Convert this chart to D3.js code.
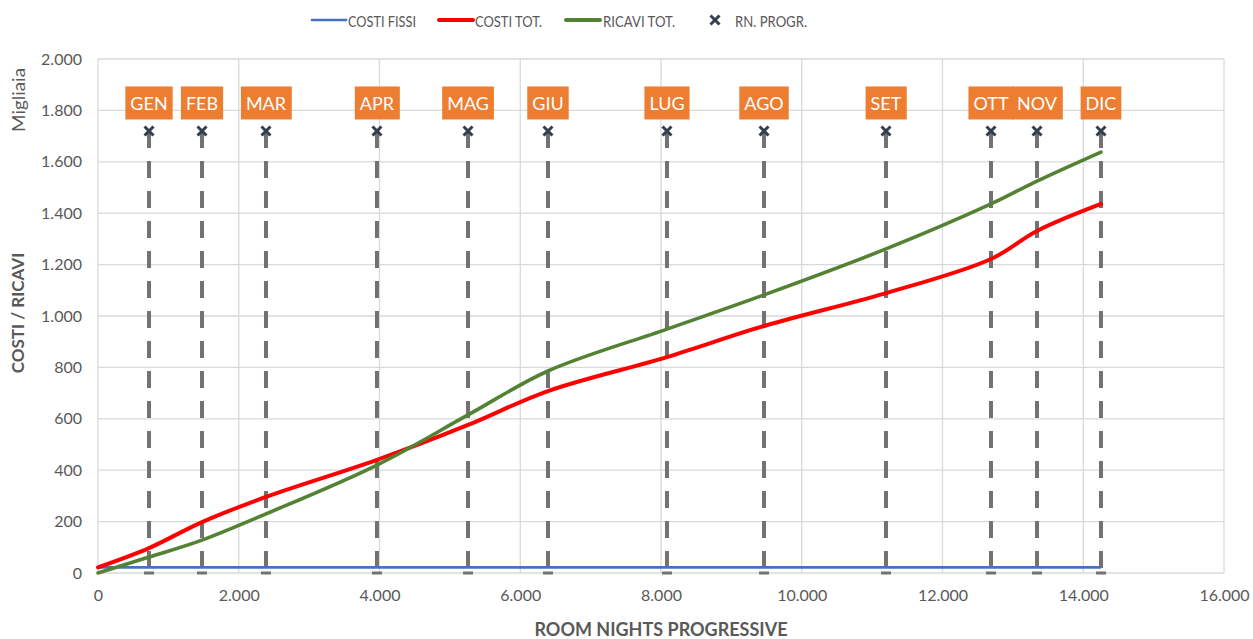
<!DOCTYPE html>
<html><head><meta charset="utf-8">
<script src="https://cdn.jsdelivr.net/npm/d3@7"></script>
<style>body{margin:0;background:#fff}svg{display:block;font-family:Lato,"Open Sans",sans-serif}</style>
</head><body>
<svg id="c" width="1253" height="639"></svg>
<script>
const months = ["GEN","FEB","MAR","APR","MAG","GIU","LUG","AGO","SET","OTT","NOV","DIC"];
const rnProgr = [725,1478,2387,3964,5258,6394,8085,9464,11197,12689,13343,14252];
const rnMarkerLevel = 1720;
const costiFissi = 22;
const costiTot = [97,198,296,440,576,708,840,961,1089,1222,1331,1436];
const ricaviTot = [62,128,230,420,615,786,949,1082,1261,1436,1525,1638];
const costiStart = 22, ricaviStart = 0;
const xTicks = [0,2000,4000,6000,8000,10000,12000,14000,16000];
const yTicks = [0,200,400,600,800,1000,1200,1400,1600,1800,2000];

const svg = d3.select("#c");
const L=98,R=1224,T=59,B=573;
const x = d3.scaleLinear().domain([0,16000]).range([L,R]);
const y = d3.scaleLinear().domain([0,2000]).range([B,T]);
const fmt = d=> d3.format(",")(d).replace(/,/g,".");
const grey="#595959", grid="#D9D9D9";

// grid
svg.append("g").selectAll("line").data(yTicks).join("line")
  .attr("x1",L).attr("x2",R).attr("y1",d=>y(d)).attr("y2",d=>y(d)).attr("stroke",grid).attr("stroke-width",1.3);
svg.append("g").selectAll("line").data(xTicks).join("line")
  .attr("y1",T).attr("y2",B).attr("x1",d=>x(d)).attr("x2",d=>x(d)).attr("stroke",grid).attr("stroke-width",1.3);

// axes
const yAx = svg.append("g").attr("transform",`translate(${L},0)`).call(d3.axisLeft(y).tickValues(yTicks).tickFormat(fmt).tickSize(0).tickPadding(16));
const xAx = svg.append("g").attr("transform",`translate(0,${B})`).call(d3.axisBottom(x).tickValues(xTicks).tickFormat(fmt).tickSize(0).tickPadding(17));
[yAx,xAx].forEach(a=>{a.select(".domain").remove();a.selectAll("text").attr("fill",grey).style("font-size","16px").style("font-family","Lato,sans-serif");});

// axis titles
svg.append("text").attr("transform",`translate(24,${(T+B)/2-3}) rotate(-90)`).attr("text-anchor","middle")
  .attr("fill",grey).style("font-weight","bold").style("font-size","17px").text("COSTI / RICAVI");
svg.append("text").attr("transform",`translate(25,100) rotate(-90)`).attr("text-anchor","middle")
  .attr("fill",grey).style("font-size","18px").attr("textLength",64).attr("lengthAdjust","spacingAndGlyphs").text("Migliaia");
svg.append("text").attr("x",661).attr("y",636).attr("text-anchor","middle")
  .attr("fill",grey).style("font-weight","bold").style("font-size","18px").text("ROOM NIGHTS PROGRESSIVE");

// drop lines (error bars)
const dash="#767171";
svg.append("g").selectAll("line").data(rnProgr).join("line")
  .attr("x1",d=>x(d)).attr("x2",d=>x(d)).attr("y1",y(rnMarkerLevel)).attr("y2",y(0))
  .attr("stroke",dash).attr("stroke-width",4).attr("stroke-dasharray","17,13");
svg.append("g").selectAll("line").data(rnProgr).join("line")
  .attr("x1",d=>x(d)-5).attr("x2",d=>x(d)+5).attr("y1",y(0)).attr("y2",y(0))
  .attr("stroke",dash).attr("stroke-width",3);

// series
const line = d3.line().x(d=>x(d[0])).y(d=>y(d[1])).curve(d3.curveCatmullRom.alpha(0.5));
const fixedPts = [[0,costiFissi],[rnProgr[rnProgr.length-1],costiFissi]];
const costPts = [[0,costiStart]].concat(rnProgr.map((v,i)=>[v,costiTot[i]]));
const ricPts = [[0,ricaviStart]].concat(rnProgr.map((v,i)=>[v,ricaviTot[i]]));
svg.append("path").attr("d",line(fixedPts)).attr("fill","none").attr("stroke","#4472C4").attr("stroke-width",2.6);
svg.append("path").attr("d",line(costPts)).attr("fill","none").attr("stroke","#FF0000").attr("stroke-width",4).attr("stroke-linecap","round");
svg.append("path").attr("d",line(ricPts)).attr("fill","none").attr("stroke","#548235").attr("stroke-width",3.6).attr("stroke-linecap","round");

// markers
const cross = (g,cx,cy,s)=>{
  g.append("path").attr("d",`M${cx-s},${cy-s}L${cx+s},${cy+s}M${cx-s},${cy+s}L${cx+s},${cy-s}`)
   .attr("stroke","#333F50").attr("stroke-width",3).attr("fill","none");
};
const mk = svg.append("g");
rnProgr.forEach(v=>cross(mk,x(v),y(rnMarkerLevel),4.5));

// labels
const lg = svg.append("g");
const labelY = y(rnMarkerLevel)-28;
months.forEach((m,i)=>{
  const g = lg.append("g");
  const t = g.append("text").attr("x",x(rnProgr[i])).attr("y",labelY).attr("text-anchor","middle")
    .attr("dominant-baseline","central").attr("fill","#fff").style("font-size","18px").text(m);
  const bb = t.node().getBBox();
  g.insert("rect","text").attr("x",bb.x-5).attr("y",labelY-16.5).attr("width",bb.width+10).attr("height",33).attr("fill","#ED7D31");
});

// legend
const leg = svg.append("g").style("font-size","16px");
const legItems = [
  {t:"COSTI FISSI",c:"#4472C4",w:2.6,x1:312,x2:346,tx:348,tl:68},
  {t:"COSTI TOT.",c:"#FF0000",w:4,x1:439,x2:473,tx:475,tl:67},
  {t:"RICAVI TOT.",c:"#548235",w:4,x1:566,x2:600,tx:603,tl:72}
];
legItems.forEach(d=>{
  leg.append("line").attr("x1",d.x1).attr("x2",d.x2).attr("y1",20).attr("y2",20).attr("stroke",d.c).attr("stroke-width",d.w).attr("stroke-linecap","round");
  leg.append("text").attr("x",d.tx).attr("y",20).attr("dominant-baseline","central").attr("fill",grey).attr("textLength",d.tl).attr("lengthAdjust","spacingAndGlyphs").text(d.t);
});
cross(leg,715,20,4.5);
leg.append("text").attr("x",735).attr("y",20).attr("dominant-baseline","central").attr("fill",grey).attr("textLength",72).attr("lengthAdjust","spacingAndGlyphs").text("RN. PROGR.");
</script>
</body></html>
